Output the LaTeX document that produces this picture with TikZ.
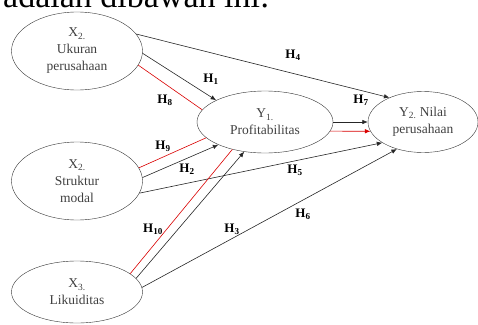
\documentclass[tikz,border=0pt]{standalone}
\usepackage{fontspec}
\setmainfont{Liberation Serif}
\usetikzlibrary{shapes.geometric,arrows.meta}

\begin{document}
\begin{tikzpicture}[x=1pt,y=-1pt,
    var/.style={draw=black!80,ellipse,inner sep=0pt,align=center,text=black!75,
      font=\fontsize{13.5}{17}\selectfont},
    hyp/.style={font=\bfseries\fontsize{13}{13}\selectfont},
    path-black/.style={draw=black!85,line width=0.6pt,-{Latex[length=5.5pt,width=4.5pt]}},
    path-red/.style={draw=red!85!black,line width=0.6pt}]
  \path[use as bounding box,clip] (0,0) rectangle (478,324);
  \node[anchor=base west,inner sep=0pt,font=\fontsize{34}{34}\selectfont] (intro) at (3,8) {adalah dibawah ini:};

  \node[var,minimum width=131pt,minimum height=78pt] (ukuran) at (77,51) {X\textsubscript{2.}\\Ukuran\\perusahaan};
  \node[var,minimum width=131pt,minimum height=78pt] (struktur) at (77,181) {X\textsubscript{2.}\\Struktur\\modal};
  \node[var,minimum width=131pt,minimum height=62pt] (likuiditas) at (77,292) {X\textsubscript{3.}\\Likuiditas};
  \node[var,minimum width=136pt,minimum height=62pt] (profit) at (265,122) {Y\textsubscript{1.}\\Profitabilitas};
  \node[var,minimum width=110pt,minimum height=61pt] (nilai) at (423,122) {Y\textsubscript{2.} Nilai\\perusahaan};

  \draw[path-black] (ukuran.16) -- (nilai.144);
  \draw[path-black] (ukuran.-2) -- (profit.156);
  \draw[path-red] (ukuran.-13) -- (profit.169);
  \draw[path-red] (struktur.12) -- (profit.195);
  \draw[path-black] (struktur.3) -- (profit.206);
  \draw[path-black] (struktur.-11) -- (nilai.207);
  \draw[path-red] (likuiditas.19) -- (profit.220);
  \draw[path-black] (likuiditas.13) -- (profit.235);
  \draw[path-black] (likuiditas.4) -- (nilai.226);
  \draw[path-black] (profit.0) -- (nilai.180);
  \draw[path-red,-{Latex[length=5.5pt,width=4.5pt]}] (profit.-8) -- (nilai.190);

  \node[hyp] (h4) at (293,55) {H\textsubscript{4}};
  \node[hyp] (h1) at (211,79) {H\textsubscript{1}};
  \node[hyp] (h8) at (165,100) {H\textsubscript{8}};
  \node[hyp] (h7) at (361,100) {H\textsubscript{7}};
  \node[hyp] (h9) at (163,146) {H\textsubscript{9}};
  \node[hyp] (h2) at (187,169) {H\textsubscript{2}};
  \node[hyp] (h5) at (295,170) {H\textsubscript{5}};
  \node[hyp] (h10) at (153,229) {H\textsubscript{10}};
  \node[hyp] (h3) at (232,229) {H\textsubscript{3}};
  \node[hyp] (h6) at (303,214) {H\textsubscript{6}};
\end{tikzpicture}
\end{document}
